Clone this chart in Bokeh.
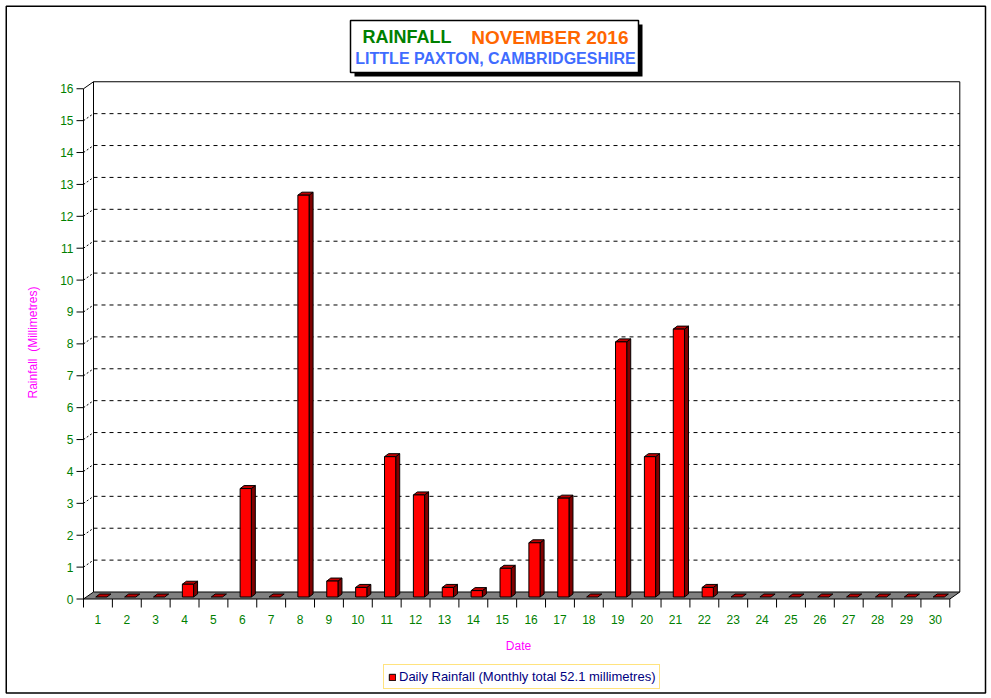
import math
from bokeh.plotting import figure
from bokeh.models import Range1d, Label, BoxAnnotation, Legend, LegendItem
from bokeh.core.properties import value
from bokeh.embed import file_html
from bokeh.resources import INLINE

# ---------------- data ----------------
days = list(range(1, 31))
rainfall = [0, 0, 0, 0.4, 0, 3.4, 0, 12.6, 0.5, 0.3,
            4.4, 3.2, 0.3, 0.2, 0.9, 1.7, 3.1, 0, 8.0, 4.4,
            8.4, 0.3, 0, 0, 0, 0, 0, 0, 0, 0]
y_ticks = list(range(0, 17))
y_max = 16
title_left = "RAINFALL"
title_right = "NOVEMBER 2016"
subtitle = "LITTLE PAXTON, CAMBRIDGESHIRE"
y_label = "Rainfall \u00a0(Millimetres)"
x_label = "Date"
legend_label = "Daily Rainfall (Monthly total %.1f millimetres)" % sum(rainfall)

# ---------------- geometry ----------------
FONT = "Liberation Sans"
W, H = 990, 697
PX = 28.877        # px per day
PY = 31.89         # px per mm
AX_X = 83.0        # canvas x of the value axis (x = 0.5)
AX_Y = 598.5       # canvas y of the floor front (y = 0)
DX = 10 / PX       # depth offset of the 3D walls
DY = 7 / PY

def cx(px):
    """canvas x (px) -> data x"""
    return 0.5 + (px - AX_X) / PX

def cy(py):
    """canvas y (px, from top) -> data y"""
    return (AX_Y - py) / PY

p = figure(width=W, height=H, output_backend="svg", toolbar_location=None,
           x_range=Range1d(cx(0), cx(W)), y_range=Range1d(cy(H), cy(0)),
           x_axis_location=None, y_axis_location=None, min_border=0)
p.outline_line_color = None
p.xgrid.visible = False
p.ygrid.visible = False
p.background_fill_color = "white"
p.border_fill_color = "white"

x_lo, x_hi = 0.5, 30.5

# ---------------- 3D walls ----------------
p.patch([x_lo, x_hi, x_hi + DX, x_lo + DX], [0, 0, DY, DY],
        fill_color="#808080", line_color="black", line_width=1)
grid_vals = [v for v in y_ticks if 0 < v < y_max]
p.segment(x0=[x_lo + DX] * len(grid_vals), y0=[v + DY for v in grid_vals],
          x1=[x_hi + DX] * len(grid_vals), y1=[v + DY for v in grid_vals],
          line_color="black", line_width=1, line_dash="4 4")
p.segment(x0=[x_lo] * len(grid_vals), y0=grid_vals,
          x1=[x_lo + DX] * len(grid_vals), y1=[v + DY for v in grid_vals],
          line_color="black", line_width=1, line_dash="2 2")
p.line([x_lo + DX, x_lo + DX, x_hi + DX, x_hi + DX],
       [DY, y_max + DY, y_max + DY, DY], line_color="black", line_width=1)
p.line([x_lo, x_lo, x_lo + DX], [0, y_max, y_max + DY], line_color="black", line_width=1)

# ---------------- axes: ticks and labels via the data scales ----------------
p.segment(x0=[cx(AX_X - 7)] * len(y_ticks), y0=y_ticks,
          x1=[x_lo] * len(y_ticks), y1=y_ticks, line_color="black", line_width=1)
p.text(x=[cx(73)] * len(y_ticks), y=y_ticks, text=[str(v) for v in y_ticks],
       text_font=value(FONT), text_font_size="12px", text_color="#008000",
       text_align="right", text_baseline="middle")
bounds = [d - 0.5 for d in days] + [days[-1] + 0.5]
p.segment(x0=bounds, y0=[0] * len(bounds), x1=bounds, y1=[cy(AX_Y + 8.5)] * len(bounds),
          line_color="black", line_width=1)
p.text(x=days, y=[cy(618.5)] * len(days), text=[str(d) for d in days],
       text_font=value(FONT), text_font_size="12px", text_color="#008000",
       text_align="center", text_baseline="middle")
p.add_layout(Label(x=cx(518), y=cy(645.5), text=x_label, text_font=FONT,
                   text_font_size="12px", text_color="#FF00FF",
                   text_align="center", text_baseline="middle"))
p.add_layout(Label(x=cx(32), y=cy(342), text=y_label, text_font=FONT, angle=math.pi / 2,
                   text_font_size="12px", text_color="#FF00FF",
                   text_align="center", text_baseline="middle"))

# ---------------- bars ----------------
ox, oy = 3.4 / PX, 2.0 / PY
hw = 5.6 / PX
bx, by = 4.0 / PX, 3.0 / PY
fx, fy, sx, sy, tx, ty = [], [], [], [], [], []
for d, v in zip(days, rainfall):
    xl, xr = d + ox - hw, d + ox + hw
    yb, yt = oy, v + oy
    tx.append([xl, xr, xr + bx, xl + bx]); ty.append([yt, yt, yt + by, yt + by])
    if v > 0:
        fx.append([xl, xr, xr, xl]); fy.append([yb, yb, yt, yt])
        sx.append([xr, xr + bx, xr + bx, xr]); sy.append([yb, yb + by, yt + by, yt])

p.patches(sx, sy, fill_color="#800000", line_color="black", line_width=1)
p.patches(tx, ty, fill_color="#C00000", line_color="black", line_width=1)
front = p.patches(fx, fy, fill_color="#FF0000", line_color="black", line_width=1)

# ---------------- legend ----------------
legend = Legend(items=[LegendItem(label=legend_label, renderers=[front])],
                location=(383, H - 689), orientation="vertical",
                border_line_color="#FFC800", border_line_width=1,
                background_fill_color="white", background_fill_alpha=1,
                padding=4, margin=0, spacing=0, label_standoff=3,
                glyph_width=8, glyph_height=8, label_height=15,
                label_text_font=FONT, label_text_font_size="13px",
                label_text_color="#000080")
p.add_layout(legend)

# ---------------- title box ----------------
p.add_layout(BoxAnnotation(left=cx(354), right=cx(642), top=cy(24), bottom=cy(76),
                           fill_color="black", fill_alpha=1, line_color=None))
p.add_layout(BoxAnnotation(left=cx(350), right=cx(638), top=cy(20), bottom=cy(72),
                           fill_color="white", fill_alpha=1, line_color="black",
                           line_width=1.5, line_alpha=1))
p.add_layout(Label(x=cx(362), y=cy(36.5), text=title_left, text_font=FONT,
                   text_font_size="18px", text_font_style="bold", text_color="#008000",
                   text_align="left", text_baseline="middle"))
p.add_layout(Label(x=cx(628), y=cy(36.5), text=title_right, text_font=FONT,
                   text_font_size="19px", text_font_style="bold", text_color="#FF6600",
                   text_align="right", text_baseline="middle"))
p.add_layout(Label(x=cx(495), y=cy(57.5), text=subtitle, text_font=FONT,
                   text_font_size="16px", text_font_style="bold", text_color="#3F6CFF",
                   text_align="center", text_baseline="middle"))

# ---------------- outer border ----------------
p.add_layout(BoxAnnotation(left=cx(5.75), right=cx(985), top=cy(5.75), bottom=cy(692.5),
                           fill_alpha=0, line_color="black", line_width=1.5, line_alpha=1))

open("out.html", "w").write(file_html(p, INLINE))
